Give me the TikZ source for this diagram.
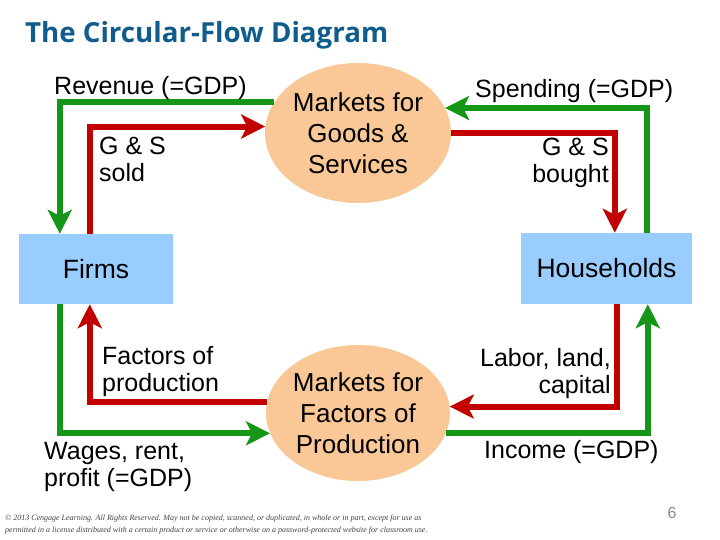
\documentclass[tikz,border=0pt]{standalone}
\usepackage{fontspec}
\setmainfont{Liberation Sans}
\newfontfamily\titlefont{Open Sans}
\newfontfamily\copyfont{Liberation Serif}
\usetikzlibrary{arrows.meta,shapes.geometric}
\definecolor{gflow}{RGB}{22,150,22}
\definecolor{rflow}{RGB}{195,0,0}
\definecolor{boxblue}{RGB}{153,204,255}
\definecolor{peach}{RGB}{250,200,150}
\definecolor{titleblue}{RGB}{16,92,140}
\begin{document}
\begin{tikzpicture}[x=1pt,y=-1pt,
  flowline/.style={line width=6pt, line join=miter, -{Stealth[length=24pt,width=24pt,inset=6pt]}},
  gline/.style={flowline, draw=gflow, color=gflow},
  rline/.style={flowline, draw=rflow, color=rflow},
  agent/.style={rectangle, fill=boxblue, inner sep=0pt, font=\fontsize{26.5}{30}\selectfont},
  market/.style={ellipse, fill=peach, inner sep=0pt, align=center, font=\fontsize{26}{31}\selectfont},
  lbl/.style={inner sep=0pt, font=\fontsize{25}{27}\selectfont}]
\useasboundingbox (0,0) rectangle (720,540);

% title
\node[anchor=west, inner sep=0pt, text=titleblue] (title) at (25,35)
  {\resizebox{363pt}{!}{\titlefont\bfseries The Circular-Flow Diagram}};

% agents and markets
\node[agent, minimum width=154pt, minimum height=70pt] (firms) at (96,269) {Firms};
\node[agent, minimum width=171pt, minimum height=71pt] (hh) at (606.5,268.5) {Households};
\node[market, minimum width=186pt, minimum height=140pt] (mg) at (358,133) {Markets for\\Goods \&\\Services};
\node[market, minimum width=184pt, minimum height=136pt] (mf) at (358,413) {Markets for\\Factors of\\Production};

% attachment points on the boxes
\path (firms.north west) ++(41,0) coordinate (fT1);
\path (firms.north west) ++(71,0) coordinate (fT2);
\path (firms.south west) ++(41,0) coordinate (fB1);
\path (firms.south west) ++(71,0) coordinate (fB2);
\path (hh.north west) ++(94,0) coordinate (hT1);
\path (hh.north west) ++(126,0) coordinate (hT2);
\path (hh.south west) ++(96,0) coordinate (hB1);
\path (hh.south west) ++(127,0) coordinate (hB2);

% top loop
\draw[gline] (mg.160.35) -| (fT1);
\draw[rline] (fT2) |- (mg.176.9);
\draw[gline] (hT2) |- (mg.16.06);
\draw[rline] (mg.0.6) -| (hT1);

% bottom loop
\draw[rline] (mf.173.7) -| (fB2);
\draw[gline] (fB1) |- (mf.193.5);
\draw[rline] (hB1) |- (mf.4.4);
\draw[gline] (mf.347.2) -| (hB2);

% labels
\node[lbl, anchor=west] (revenue) at (54,88) {Revenue (=GDP)};
\node[lbl, anchor=west, align=left] (gssold) at (99,159) {G \& S\\sold};
\node[lbl, anchor=west] (spending) at (475,91) {Spending (=GDP)};
\node[lbl, anchor=east, align=right] (gsbought) at (609,163) {G \& S\\bought};
\node[lbl, anchor=west, align=left] (factors) at (102,372) {Factors of\\production};
\node[lbl, anchor=west, align=left] (wages) at (44,467) {Wages, rent,\\profit (=GDP)};
\node[lbl, anchor=east, align=right] (labor) at (611,374) {Labor, land,\\capital};
\node[lbl, anchor=west] (income) at (484,452) {Income (=GDP)};

% page number and copyright
\node[inner sep=0pt, text=black!45, font=\fontsize{16}{18}\selectfont] (pagenum) at (672,513) {6};
\node[anchor=north west, inner sep=0pt, align=left, text=black!75, font=\copyfont\itshape\fontsize{8}{12}\selectfont] (copyright) at (5,515)
  {\textcopyright{} 2013 Cengage Learning. All Rights Reserved. May not be copied, scanned, or duplicated, in whole or in part, except for use as\\
   permitted in a license distributed with a certain product or service or otherwise on a password-protected website for classroom use.};
\end{tikzpicture}
\end{document}
